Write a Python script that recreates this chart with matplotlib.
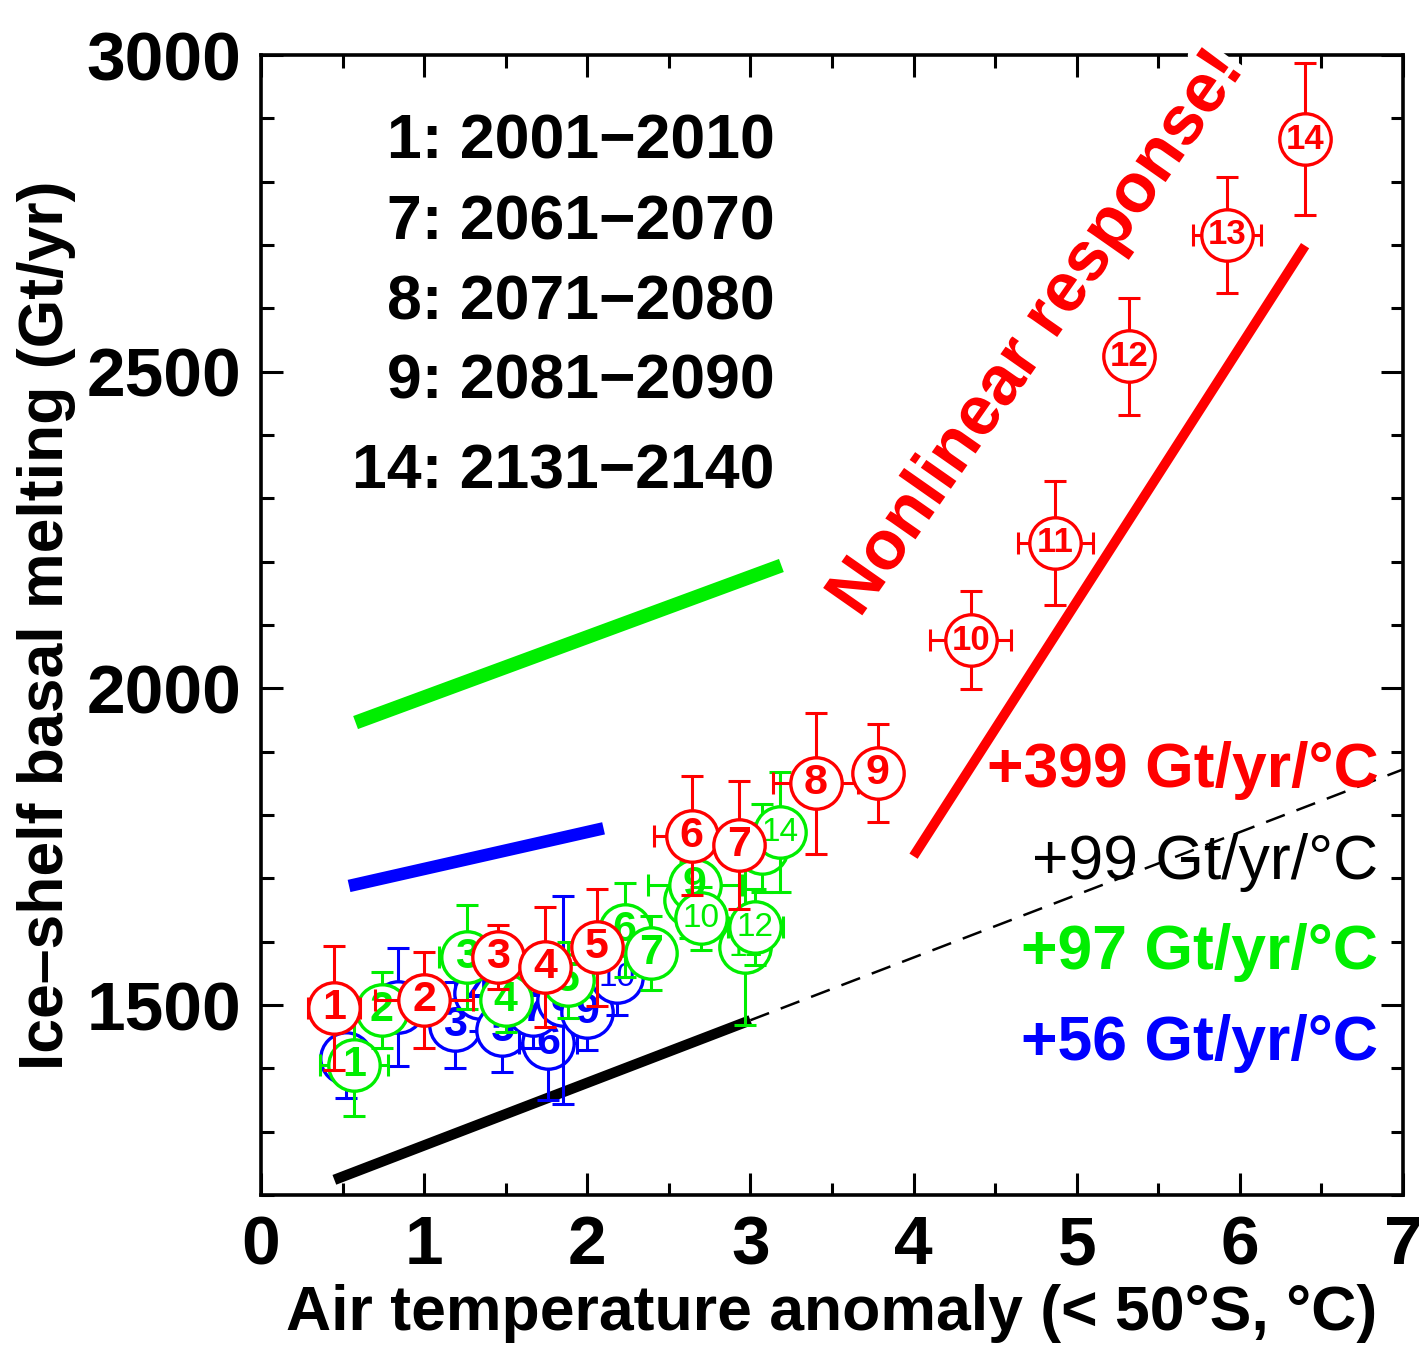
import numpy as np
import matplotlib
matplotlib.use("Agg")
import matplotlib.pyplot as plt
import matplotlib.patheffects as pe
from matplotlib.ticker import MultipleLocator

plt.rcParams['font.family'] = ['Liberation Sans', 'DejaVu Sans']

RED = '#ff0000'
GREEN = '#00ee00'
BLUE = '#0000ff'

# data: decade index, temperature anomaly, melting, errors
red_x = [0.45, 1.00, 1.45, 1.74, 2.06, 2.64, 2.93, 3.40, 3.78, 4.35, 4.87, 5.32, 5.92, 6.40]
red_y = [1495, 1508, 1576, 1560, 1591, 1767, 1752, 1850, 1866, 2076, 2230, 2524, 2716, 2867]
red_yerr = [98, 76, 50, 95, 92, 94, 101, 111, 77, 77, 98, 92, 91, 120]
red_xerr = [0.16, 0.30, 0.05, 0.05, 0.05, 0.23, 0.05, 0.26, 0.05, 0.25, 0.23, 0.05, 0.21, 0.05]

green_x = [0.57, 0.74, 1.26, 1.50, 1.88, 2.23, 2.39, 2.63, 2.66, 2.70, 2.97, 3.03, 3.07, 3.18]
green_y = [1405, 1492, 1576, 1508, 1539, 1618, 1582, 1666, 1689, 1637, 1591, 1623, 1748, 1773]
green_yerr = [80, 60, 82, 50, 60, 74, 58, 60, 60, 50, 123, 60, 70, 95]
green_xerr = [0.21, 0.05, 0.17, 0.05, 0.05, 0.05, 0.05, 0.05, 0.29, 0.05, 0.05, 0.17, 0.05, 0.05]

blue_x = [0.52, 0.84, 1.19, 1.34, 1.48, 1.76, 1.67, 1.85, 2.00, 2.18]
blue_y = [1416, 1497, 1468, 1519, 1461, 1440, 1492, 1508, 1489, 1544]
blue_yerr = [63, 93, 68, 60, 66, 90, 60, 164, 60, 60]
blue_xerr = [0.12, 0.05, 0.05, 0.05, 0.05, 0.18, 0.05, 0.05, 0.05, 0.05]

# regression lines (start/end)
red_fit_x = [4.0, 6.40]
red_fit_y = [1735, 2699]
green_fit_x = [0.58, 3.19]
green_fit_y = [1946, 2194]
blue_fit_x = [0.54, 2.10]
blue_fit_y = [1688, 1779]
black_fit_x = [0.45, 3.0]
black_fit_y = [1224, 1476]
black_ext_x = [3.0, 7.0]
black_ext_y = [1476, 1872]

periods = ['1: 2001\u22122010', '7: 2061\u22122070', '8: 2071\u22122080',
           '9: 2081\u22122090', '14: 2131\u22122140']
rates = ['+399 Gt/yr/\u00b0C', '+99 Gt/yr/\u00b0C', '+97 Gt/yr/\u00b0C', '+56 Gt/yr/\u00b0C']

fig = plt.figure(figsize=(14.19, 13.45), dpi=100)
ax = fig.add_axes([0.1839, 0.1115, 0.8048, 0.8476])
ax.set_xlim(0, 7)
ax.set_ylim(1200, 3000)

# fit lines
ax.plot(green_fit_x, green_fit_y, color=GREEN, lw=10, solid_capstyle='butt', zorder=1)
ax.plot(blue_fit_x, blue_fit_y, color=BLUE, lw=9, solid_capstyle='butt', zorder=1)
ax.plot(black_fit_x, black_fit_y, color='black', lw=7.5, solid_capstyle='butt', zorder=1)
ax.plot(black_ext_x, black_ext_y, color='black', lw=1.8, dashes=(8, 5), zorder=1)
ax.plot(red_fit_x, red_fit_y, color=RED, lw=7, solid_capstyle='butt', zorder=1)


def draw_series(xs, ys, xe, ye, color, base, bold_two=False):
    for i, (x, y, dx, dy) in enumerate(zip(xs, ys, xe, ye)):
        z = base + i * 0.01
        ax.errorbar([x], [y], xerr=[dx], yerr=[dy], fmt='none', ecolor=color,
                    elinewidth=2.2, capsize=8, capthick=2.2, zorder=z)
        ax.plot([x], [y], 'o', ms=37, mfc='white', mec=color, mew=2.4, zorder=z + 0.002)
        lab = str(i + 1)
        if len(lab) == 1:
            ax.text(x, y, lab, color=color, fontsize=31, fontweight='bold',
                    ha='center', va='center', zorder=z + 0.004)
        else:
            ax.text(x, y, lab, color=color, fontsize=25 if bold_two else 24,
                    fontweight='bold' if bold_two else 'normal',
                    ha='center', va='center', zorder=z + 0.004)


draw_series(blue_x, blue_y, blue_xerr, blue_yerr, BLUE, 2)
draw_series(green_x, green_y, green_xerr, green_yerr, GREEN, 3)
draw_series(red_x, red_y, red_xerr, red_yerr, RED, 4, bold_two=True)

# period legend
for lab, yy in zip(periods, [2863, 2735, 2609, 2484, 2342]):
    ax.text(3.15, yy, lab, fontsize=45, fontweight='bold', ha='right', va='center')

# slopes
for lab, yy, col, w in zip(rates, [1871, 1725, 1583, 1440],
                           [RED, 'black', GREEN, BLUE],
                           ['bold', 'normal', 'bold', 'bold']):
    ax.text(6.85, yy, lab, color=col, fontsize=45, fontweight=w,
            ha='right', va='center', zorder=6)

ax.text(4.76, 2560, 'Nonlinear response!', color=RED, fontsize=50, fontweight='bold',
        rotation=55, ha='center', va='center', rotation_mode='anchor', zorder=10,
        clip_on=False, path_effects=[pe.withStroke(linewidth=12, foreground='white')])

ax.xaxis.set_major_locator(MultipleLocator(1))
ax.xaxis.set_minor_locator(MultipleLocator(0.5))
ax.yaxis.set_major_locator(MultipleLocator(500))
ax.yaxis.set_minor_locator(MultipleLocator(100))
ax.tick_params(which='both', direction='in', top=True, right=True, width=2.2)
ax.tick_params(which='major', length=16, labelsize=50, pad=14)
ax.tick_params(which='minor', length=9)
for lab in ax.get_xticklabels() + ax.get_yticklabels():
    lab.set_fontweight('bold')
for sp in ax.spines.values():
    sp.set_linewidth(2.6)

ax.set_xlabel('Air temperature anomaly (< 50\u00b0S, \u00b0C)', fontsize=45,
              fontweight='bold', labelpad=4)
ax.set_ylabel('Ice\u2013shelf basal melting (Gt/yr)', fontsize=45,
              fontweight='bold', labelpad=8)

fig.savefig('out.png', dpi=100)
